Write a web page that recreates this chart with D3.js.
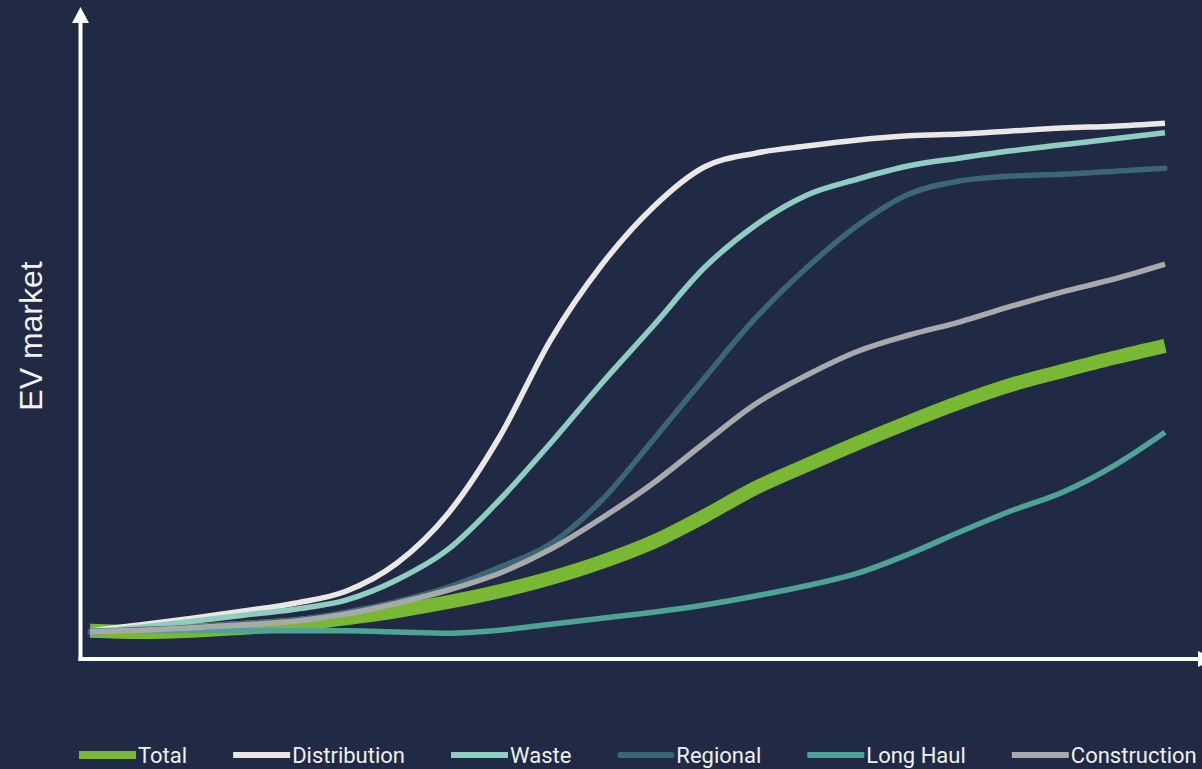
<!DOCTYPE html>
<html>
<head>
<meta charset="utf-8">
<script src="https://cdn.jsdelivr.net/npm/d3@7"></script>
<style>
  html, body { margin: 0; padding: 0; background: #202a44; overflow: hidden; }
  svg { display: block; }
</style>
</head>
<body>
<svg id="chart" width="1202" height="769"></svg>
<script>
// ---- data (relative EV market index) ----
const periods = [0,1,2,3,4,5,6,7,8,9,10,11,12,13,14,15,16,17,18,19,20,21];
const seriesNames = ["Total","Distribution","Waste","Regional","Long Haul","Construction"];
const total        = [4.7,4.5,4.7,5.2,5.8,6.8,8.0,9.5,11.3,13.5,16.2,19.5,23.8,28.5,32.3,36.0,39.5,42.8,45.7,48.0,50.2,52.2];
const distribution = [4.7,5.7,6.8,8.0,9.3,11.3,16.0,24.3,37.0,53.2,65.7,75.3,82.0,84.3,85.5,86.5,87.2,87.5,88.0,88.5,88.8,89.3];
const waste        = [4.5,5.3,6.3,7.3,8.3,9.8,13.2,18.3,26.5,36.0,46.0,55.5,65.2,72.3,77.3,80.0,82.2,83.5,84.7,85.7,86.7,87.7];
const regional     = [4.5,4.9,5.3,5.9,6.5,7.8,9.6,12.0,15.3,19.2,26.5,36.5,46.8,56.8,65.2,72.3,77.5,79.7,80.5,80.8,81.3,81.8];
const longHaul     = [4.8,4.7,4.7,4.7,4.7,4.7,4.5,4.3,4.8,5.8,6.8,7.8,9.0,10.5,12.2,14.3,17.5,21.2,24.7,27.8,32.2,37.8];
const construction = [4.5,4.8,5.2,5.7,6.3,7.5,9.3,11.5,14.3,18.3,23.5,29.3,36.0,42.5,47.3,51.3,54.0,56.2,58.8,61.2,63.3,65.8];
const yLabel = "EV market";

// ---- styles ----
const styles = {
  "Total":        { color: "#78b833", width: 14,  cap: "butt" },
  "Distribution": { color: "#ebe7e4", width: 5.5, cap: "butt" },
  "Waste":        { color: "#8ecdc0", width: 5.5, cap: "butt" },
  "Regional":     { color: "#3b6673", width: 5.5, cap: "round" },
  "Long Haul":    { color: "#4ea394", width: 5.5, cap: "butt" },
  "Construction": { color: "#a8a9ab", width: 5.5, cap: "butt" }
};
const values = [total, distribution, waste, regional, longHaul, construction];
const series = seriesNames.map((n, i) => ({ name: n, values: values[i] }));

const svg = d3.select("#chart");
const W = 1202, H = 769;
svg.append("rect").attr("width", W).attr("height", H).attr("fill", "#202a44");

const x = d3.scaleLinear().domain([0, 21]).range([90, 1165]);
const y = d3.scaleLinear().domain([0, 100]).range([659, 59]);

// axes
const axisColor = "#ffffff";
svg.append("line").attr("x1", 80.5).attr("x2", 80.5).attr("y1", 661).attr("y2", 20)
  .attr("stroke", axisColor).attr("stroke-width", 4);
svg.append("path").attr("d", "M72,23 L80.5,7 L89,23 Z").attr("fill", axisColor);
svg.append("line").attr("x1", 78.5).attr("x2", 1200).attr("y1", 659).attr("y2", 659)
  .attr("stroke", axisColor).attr("stroke-width", 4);
svg.append("path").attr("d", "M1198,651 L1214,659 L1198,667 Z").attr("fill", axisColor);

svg.append("text")
  .attr("transform", "translate(42,336) rotate(-90)")
  .attr("text-anchor", "middle")
  .attr("font-family", "'Liberation Sans', Arial, sans-serif")
  .attr("font-size", 32)
  .attr("fill", "#f2f2f2")
  .text(yLabel);

// lines
const line = d3.line()
  .x((d, i) => x(periods[i]))
  .y(d => y(d))
  .curve(d3.curveMonotoneX);

svg.append("g").selectAll("path").data(series).join("path")
  .attr("d", d => line(d.values))
  .attr("fill", "none")
  .attr("stroke", d => styles[d.name].color)
  .attr("stroke-width", d => styles[d.name].width)
  .attr("stroke-linecap", d => styles[d.name].cap)
  .attr("stroke-linejoin", "round");

// legend
const legend = svg.append("g");
let lx = 79;
const swatchW = 57, legendY = 755;
series.forEach(s => {
  const st = styles[s.name];
  const isRound = st.cap === "round";
  legend.append("line")
    .attr("x1", lx + (isRound ? 3 : 0)).attr("x2", lx + swatchW - (isRound ? 3 : 0))
    .attr("y1", legendY).attr("y2", legendY)
    .attr("stroke", st.color)
    .attr("stroke-width", s.name === "Total" ? 8 : 6)
    .attr("stroke-linecap", st.cap);
  const t = legend.append("text")
    .attr("x", lx + swatchW + 2).attr("y", 763)
    .attr("font-family", "Roboto, sans-serif")
    .attr("font-size", 22)
    .attr("fill", "#f0f0f0")
    .text(s.name);
  const w = t.node().getComputedTextLength();
  lx += swatchW + 2 + w + 46;
});
</script>
</body>
</html>
